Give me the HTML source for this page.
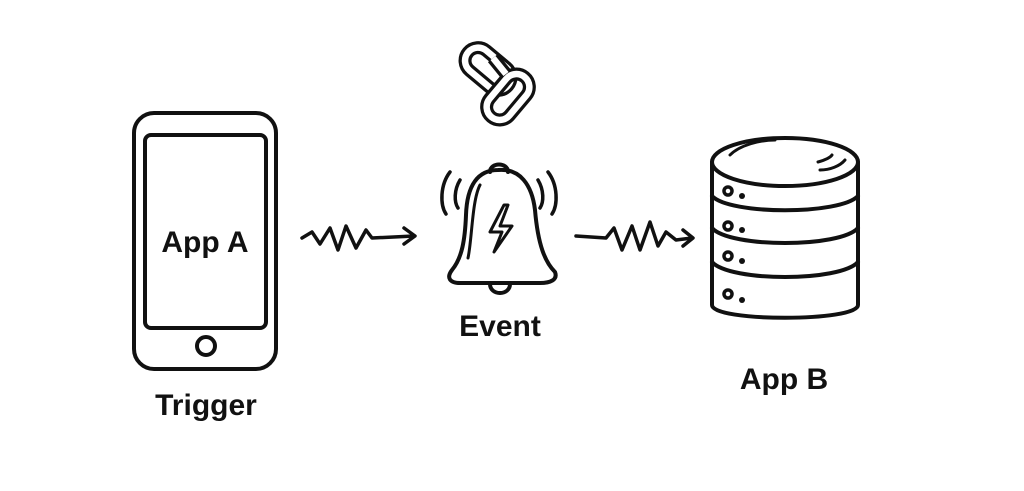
<!DOCTYPE html>
<html><head><style>
body{margin:0;background:#fff;}
svg{display:block}
text{font-family:"Liberation Sans",sans-serif;font-weight:bold;fill:#111}
</style></head><body>
<svg width="1024" height="491" viewBox="0 0 1024 491" fill="none" stroke="#111" stroke-width="4" stroke-linecap="round" stroke-linejoin="round">
<rect x="0" y="0" width="1024" height="491" fill="#fff" stroke="none"/>
<!-- phone -->
<rect x="134" y="113" width="142" height="256" rx="20"/>
<rect x="145" y="135" width="121" height="193" rx="6"/>
<circle cx="206" cy="346" r="9"/>
<text x="205" y="252" font-size="30" text-anchor="middle" stroke="none">App A</text>
<text x="206" y="415" font-size="30" text-anchor="middle" stroke="none">Trigger</text>
<!-- squiggle 1 -->
<path d="M302 238 L312 232 L320 244 L330 228 L338 250 L346 226 L356 248 L366 230 L372 238 L414 236" stroke-width="3.5"/>
<path d="M404 228 L415 236 L404 244" stroke-width="3.5"/>
<!-- squiggle 2 -->
<path d="M576 236 L606 238 L614 228 L622 250 L632 226 L640 250 L650 222 L658 246 L666 232 L676 240 L692 238" stroke-width="3.5"/>
<path d="M683 230 L693 238 L683 246" stroke-width="3.5"/>
<!-- knot: two interlocking links -->
<g>
<rect x="462" y="56" width="52" height="26" rx="13" transform="rotate(40 488 69)" stroke="#111" stroke-width="13"/>
<rect x="462" y="56" width="52" height="26" rx="13" transform="rotate(40 488 69)" stroke="#fff" stroke-width="6.5"/>
<rect x="482" y="84" width="52" height="26" rx="13" transform="rotate(-50 508 97)" stroke="#111" stroke-width="13"/>
<rect x="482" y="84" width="52" height="26" rx="13" transform="rotate(-50 508 97)" stroke="#fff" stroke-width="6.5"/>
<path d="M493 58 L506 74" transform="rotate(0)" stroke="#111" stroke-width="13" stroke-linecap="butt"/>
<path d="M493 58 L506 74" stroke="#fff" stroke-width="6.5" stroke-linecap="butt"/>
</g>
<!-- bell -->
<path d="M498 170 C520 168 532 185 535 210 C538 245 545 262 555 272 C558 280 550 283 540 283 L460 283 C450 283 446 278 452 270 C462 258 465 240 466 215 C467 185 478 170 498 170Z"/>
<path d="M490 172 C490 162 508 162 508 172"/>
<path d="M490 284 C490 296 510 296 510 284"/>
<path d="M480 185 C472 200 472 240 468 258" stroke-width="3"/>
<path d="M504 205 L490 232 L502 232 L494 252 L512 226 L500 226 L508 205Z" stroke-width="3"/>
<path d="M450 172 C440 185 440 205 446 214" stroke-width="3.5"/>
<path d="M460 180 C454 190 454 202 458 208" stroke-width="3.5"/>
<path d="M548 172 C558 185 558 205 552 214" stroke-width="3.5"/>
<path d="M538 180 C544 190 544 202 540 208" stroke-width="3.5"/>
<text x="500" y="336" font-size="30" text-anchor="middle" stroke="none">Event</text>
<!-- database -->
<ellipse cx="785" cy="162" rx="73" ry="24"/>
<path d="M712 162 L712 305 C712 322 858 322 858 305 L858 162"/>
<path d="M712 196 C730 215 840 215 858 196" />
<path d="M712 228 C730 248 840 248 858 228"/>
<path d="M712 262 C730 282 840 282 858 262"/>
<path d="M730 155 C740 145 760 140 775 140" stroke-width="3"/>
<path d="M820 170 C830 170 840 166 845 160" stroke-width="3"/>
<path d="M818 162 C825 160 830 158 832 155" stroke-width="3"/>
<g stroke-width="3.5"><circle cx="728" cy="191" r="4"/><circle cx="728" cy="226" r="4"/><circle cx="728" cy="256" r="4"/><circle cx="728" cy="294" r="4"/></g>
<g fill="#111" stroke="none"><circle cx="742" cy="196" r="3"/><circle cx="742" cy="230" r="3"/><circle cx="742" cy="261" r="3"/><circle cx="742" cy="300" r="3"/></g>
<text x="784" y="389" font-size="30" text-anchor="middle" stroke="none">App B</text>
</svg>
</body></html>
